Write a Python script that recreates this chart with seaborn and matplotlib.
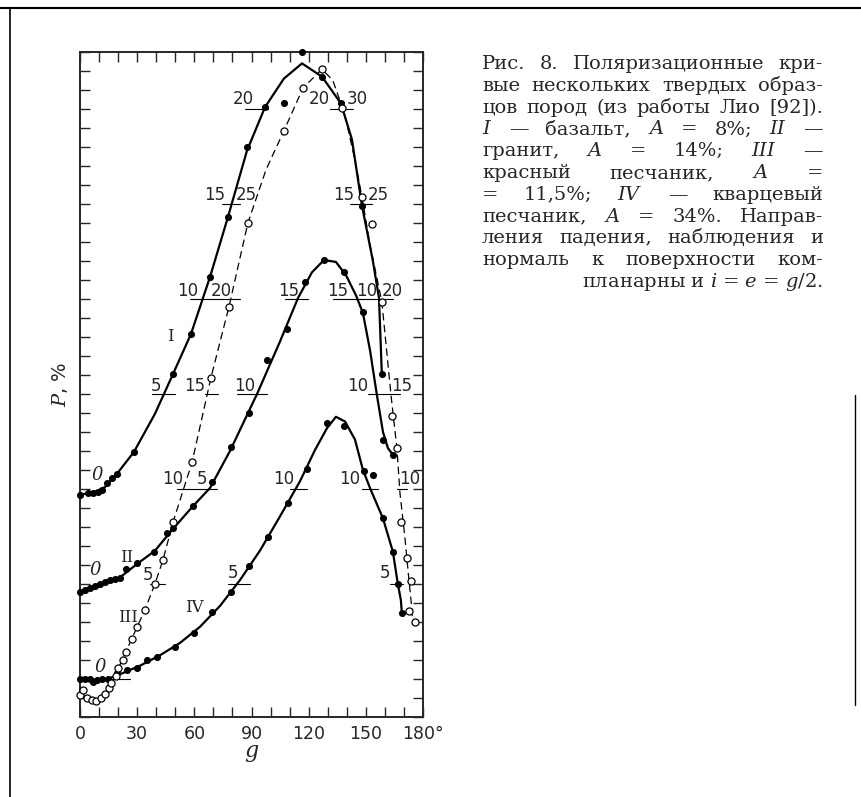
import pandas as pd
import matplotlib.pyplot as plt
import seaborn as sns
from matplotlib.lines import Line2D

# Точки кривых: g (градусы) и P (%)
g_I = [0, 4.2, 6.8, 9.4, 11.5, 14.2, 16.8, 19.4, 28.3, 48.8, 58.2, 68.2, 77.6, 87.6, 97.1, 107.0, 116.5, 127.0, 136.9, 148.0, 158.4]
p_I = [-0.3, -0.2, -0.2, -0.15, -0.05, 0.3, 0.6, 0.8, 1.95, 6.05, 8.15, 11.15, 14.3, 18.0, 20.1, 20.3, 23.0, 21.7, 20.3, 14.9, 6.05]

g_II = [0, 2.6, 5.2, 7.9, 10.5, 13.1, 15.7, 18.4, 21.0, 24.1, 29.9, 38.8, 45.6, 48.8, 59.3, 69.3, 79.2, 88.7, 98.1, 108.6, 118.0, 128.0, 138.5, 148.5, 159.0, 164.2]
p_II = [-0.4, -0.3, -0.2, -0.1, 0.0, 0.1, 0.2, 0.25, 0.3, 0.8, 1.1, 1.7, 2.7, 2.95, 4.1, 5.35, 7.2, 9.0, 11.8, 13.4, 15.9, 17.05, 16.4, 14.3, 7.6, 6.8]

g_III = [0, 1.6, 3.7, 6.3, 8.4, 11.0, 13.1, 15.2, 16.3, 18.9, 19.9, 22.6, 24.1, 27.3, 29.9, 34.1, 39.3, 43.5, 48.8, 58.8, 68.7, 78.2, 88.1, 107.0, 117.0, 127.0, 137.5, 148.0, 153.2, 158.4, 163.7, 166.3, 168.4, 171.6, 173.7, 172.6, 175.8]
p_III = [-0.85, -0.6, -1.0, -1.1, -1.15, -1.0, -0.8, -0.45, -0.2, 0.15, 0.6, 1.0, 1.4, 2.1, 2.75, 3.65, 5.0, 6.25, 8.25, 11.4, 15.85, 19.6, 24.0, 28.85, 31.1, 32.1, 30.05, 25.35, 23.95, 19.85, 13.85, 12.15, 8.25, 6.35, 5.15, 3.6, 3.0]

g_IV = [0, 2.6, 5.2, 6.8, 8.9, 11.5, 14.7, 19.4, 24.7, 29.9, 35.2, 40.4, 49.8, 59.8, 69.3, 79.2, 88.7, 98.6, 109.1, 119.1, 129.6, 138.5, 149.0, 153.7, 159.0, 164.2, 166.8, 168.9]
p_IV = [0.0, 0.0, 0.0, -0.15, -0.05, 0.0, 0.0, 0.3, 0.45, 0.6, 1.0, 1.15, 1.7, 2.4, 3.55, 4.6, 5.95, 7.45, 9.25, 11.05, 13.45, 13.3, 10.95, 10.75, 8.45, 6.7, 5.0, 3.45]

# Сглаженные кривые, проведённые через точки (тоже)
cg_I = [0, 7.9, 13.1, 19.4, 28.3, 39.3, 48.8, 58.2, 68.2, 77.6, 87.6, 97.1, 107.0, 116.5, 127.0, 136.9, 142.7, 148.0, 153.7, 156.9, 158.4]
cp_I = [-0.3, -0.15, 0.1, 0.8, 1.95, 3.95, 6.05, 8.15, 11.15, 14.3, 17.8, 20.1, 21.6, 22.4, 21.7, 20.3, 18.4, 14.9, 12.0, 10.05, 6.05]

cg_II = [0, 10.5, 21.0, 29.9, 39.3, 48.8, 59.3, 68.2, 78.7, 92.9, 104.9, 114.4, 121.7, 128.0, 134.3, 139.6, 144.8, 148.5, 152.2, 155.8, 159.0, 161.6, 164.2]
cp_II = [-0.4, -0.05, 0.35, 1.05, 1.75, 2.9, 4.1, 5.05, 7.0, 10.0, 12.75, 15.05, 16.4, 17.05, 16.95, 16.25, 15.2, 14.25, 12.3, 9.95, 8.0, 7.15, 6.8]

cg_III = [0, 4.2, 8.4, 12.6, 16.8, 21.0, 26.2, 34.1, 39.3, 43.5, 48.8, 58.8, 68.7, 78.2, 88.1, 97.6, 107.0, 117.0, 127.0, 132.7, 139.0, 144.3, 148.0, 152.2, 158.4, 163.2, 166.3, 167.9, 170.5, 172.1, 173.7, 174.7]
cp_III = [-0.75, -1.05, -1.15, -0.85, -0.05, 0.75, 1.9, 3.65, 5.0, 6.25, 8.25, 11.4, 15.85, 19.6, 24.0, 26.8, 28.85, 31.1, 32.1, 31.5, 29.7, 27.3, 25.35, 22.85, 19.85, 14.95, 12.15, 9.8, 7.45, 5.75, 4.15, 2.95]

cg_IV = [0, 10.5, 15.7, 21.0, 31.5, 42.0, 52.5, 63.0, 73.5, 83.9, 94.4, 104.9, 115.4, 123.3, 129.6, 134.3, 139.1, 144.3, 148.5, 152.2, 159.0, 164.2, 166.8, 168.4, 168.9]
cp_IV = [0.0, -0.05, 0.05, 0.25, 0.7, 1.25, 1.9, 2.75, 3.85, 5.2, 6.75, 8.55, 10.4, 12.05, 13.2, 13.8, 13.55, 12.6, 11.0, 10.05, 8.45, 6.7, 5.0, 4.15, 3.45]

# Сдвиг нуля каждой кривой по вертикали (в делениях шкалы)
offsets = {'I': 12, 'II': 7, 'III': 2, 'IV': 2}

caption = [
    'Рис. 8. Поляризационные кри-',
    'вые нескольких твердых образ-',
    'цов пород (из работы Лио [92]).',
    '$I$ — базальт, $A$ = 8%; $II$ —',
    'гранит, $A$ = 14%; $III$ —',
    'красный песчаник, $A$ =',
    '= 11,5%; $IV$ — кварцевый',
    'песчаник, $A$ = 34%. Направ-',
    'ления падения, наблюдения и',
    'нормаль к поверхности ком-',
    'планарны и $i$ = $e$ = $g$/2.',
]

sns.set_style('ticks')
plt.rcParams['font.family'] = ['DejaVu Sans']
plt.rcParams['mathtext.fontset'] = 'dejavuserif'

fig = plt.figure(figsize=(8.61, 7.97), dpi=100)
ax = fig.add_axes([80 / 861, 1 - 717 / 797, 343 / 861, 665 / 797])

points = pd.concat([
    pd.DataFrame({'g': g_I, 'y': [p + offsets['I'] for p in p_I], 'curve': 'I'}),
    pd.DataFrame({'g': g_II, 'y': [p + offsets['II'] for p in p_II], 'curve': 'II'}),
    pd.DataFrame({'g': g_IV, 'y': [p + offsets['IV'] for p in p_IV], 'curve': 'IV'}),
])
open_pts = pd.DataFrame({'g': g_III, 'y': [p + offsets['III'] for p in p_III]})

for cg, cp, name in [(cg_I, cp_I, 'I'), (cg_II, cp_II, 'II'), (cg_IV, cp_IV, 'IV')]:
    sns.lineplot(x=cg, y=[p + offsets[name] for p in cp], sort=False, estimator=None,
                 color='black', lw=1.6, ax=ax)
sns.lineplot(x=cg_III, y=[p + offsets['III'] for p in cp_III], sort=False, estimator=None,
             color='black', lw=0.9, linestyle=(0, (6, 3.5)), ax=ax)

sns.scatterplot(data=points, x='g', y='y', color='black', s=26, linewidth=0,
                clip_on=False, zorder=4, ax=ax)
sns.scatterplot(data=open_pts, x='g', y='y', color='white', edgecolor='black', s=26,
                linewidth=0.9, clip_on=False, zorder=5, ax=ax)

# Масштабные черточки со значениями P, %
marks = [
    (37.8, 49.8, 17), (57.7, 83.9, 22), (74.5, 83.9, 27), (86.6, 98.6, 32),
    (131.2, 143.2, 32), (141.7, 153.2, 27), (132.7, 164.2, 22),
    (65.5, 72.5, 17), (82.4, 98.1, 17), (107.6, 119.6, 22), (151.1, 167.9, 17),
    (50.9, 71.9, 12), (110.2, 119.1, 12), (148.0, 156.3, 12), (166.3, 171.6, 12),
    (36.7, 44.6, 7), (77.6, 89.2, 7), (162.6, 169.5, 7), (16.8, 26.2, 2),
]
for x0, x1, yv in marks:
    ax.plot([x0, x1], [yv, yv], color='black', lw=0.8)

nums = [
    (39.9, 17.4, '5'), (56.7, 22.4, '10'), (74.0, 22.4, '20'), (70.8, 27.5, '15'),
    (87.1, 27.5, '25'), (85.5, 32.5, '20'), (125.4, 32.5, '20'), (145.3, 32.5, '30'),
    (138.5, 27.5, '15'), (156.3, 27.5, '25'), (135.4, 22.4, '15'), (150.6, 22.4, '10'),
    (163.7, 22.4, '20'), (145.9, 17.4, '10'), (168.9, 17.4, '15'), (141.7, 12.5, '10'),
    (173.1, 12.5, '10'), (160.0, 7.6, '5'), (60.3, 17.4, '15'), (86.6, 17.4, '10'),
    (109.7, 22.4, '15'), (48.8, 12.5, '10'), (64.0, 12.5, '5'), (107.0, 12.5, '10'),
    (35.7, 7.5, '5'), (80.3, 7.6, '5'),
]
for xv, yv, s in nums:
    ax.text(xv, yv, s, ha='center', va='center', fontsize=12)

for xv, yv in [(8.9, 12.75), (7.9, 7.75), (10.5, 2.65)]:
    ax.text(xv, yv, '0', ha='center', va='center', fontsize=13, family='DejaVu Serif', style='italic')

for xv, yv, s in [(47.2, 20.05, 'I'), (24.7, 8.4, 'II'), (25.2, 5.25, 'III'), (59.8, 5.75, 'IV')]:
    ax.text(xv, yv, s, ha='center', va='center', fontsize=12, family='DejaVu Serif')

ax.set_xlim(0, 180)
ax.set_ylim(0, 35)
ax.set_xticks(range(0, 181, 10))
ax.set_xticklabels(['0', '', '', '30', '', '', '60', '', '', '90', '', '', '120', '', '',
                    '150', '', '', '180°'], fontsize=12.5)
ax.set_yticks(range(0, 36))
ax.set_yticklabels([])
ax.tick_params(direction='in', top=True, right=True, length=7, width=1, pad=6)
for sp in ax.spines.values():
    sp.set_linewidth(1.4)
ax.set_xlabel('$g$', fontsize=16, labelpad=0)
ax.set_ylabel('$P$, %', fontsize=14, labelpad=1)

# Линии рамки страницы
fig.add_artist(Line2D([0, 1], [1 - 8 / 797, 1 - 8 / 797], color='black', lw=1.5))
fig.add_artist(Line2D([10 / 861, 10 / 861], [0, 1 - 8 / 797], color='black', lw=1.2))
fig.add_artist(Line2D([855 / 861, 855 / 861], [1 - 705 / 797, 1 - 395 / 797], color='black', lw=1.0))

# Подпись, выровненная по ширине
fig.canvas.draw()
renderer = fig.canvas.get_renderer()
cx0, cx1 = 482, 823
cap_size = 14
for i, line in enumerate(caption):
    ybase = 1 - (69 + 21.8 * i) / 797
    if i == len(caption) - 1:
        fig.text(cx1 / 861, ybase, line, ha='right', va='baseline', fontsize=cap_size, family='DejaVu Serif')
        continue
    words = line.split(' ')
    texts = [fig.text(0, ybase, w, va='baseline', fontsize=cap_size, family='DejaVu Serif') for w in words]
    widths = [t.get_window_extent(renderer).width for t in texts]
    gap = (cx1 - cx0 - sum(widths)) / (len(words) - 1)
    xpos = cx0
    for t, w in zip(texts, widths):
        t.set_x(xpos / 861)
        xpos += w + gap

fig.savefig('out.png', dpi=100)
